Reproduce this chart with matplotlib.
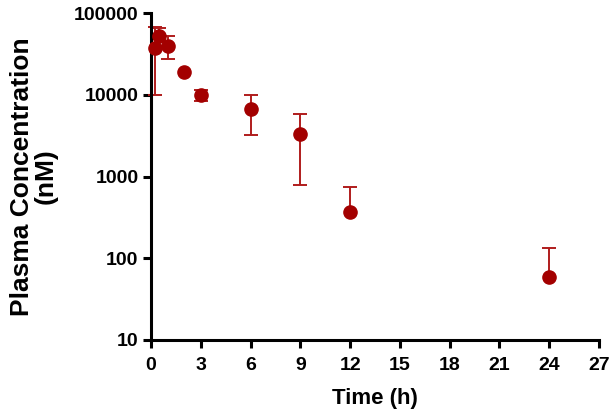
import numpy as np
import matplotlib.pyplot as plt

# Time points (h) and plasma concentration (nM)
time_h = np.array([0.25, 0.5, 1, 2, 3, 6, 9, 12, 24])
conc_mean = np.array([37000, 52000, 39000, 19000, 9800, 6700, 3300, 370, 59])
conc_upper = np.array([67000, 66000, 52000, 19000, 11300, 10000, 5800, 750, 133])
conc_lower = np.array([10000, 52000, 27500, 19000, 8500, 3200, 790, 370, 59])

x_ticks = [0, 3, 6, 9, 12, 15, 18, 21, 24, 27]
y_ticks = [10, 100, 1000, 10000, 100000]
y_tick_labels = ['10', '100', '1000', '10000', '100000']

plt.rcParams['font.family'] = ['Liberation Sans', 'DejaVu Sans']

fig = plt.figure(figsize=(6.15, 4.2), dpi=100)
ax = fig.add_axes([151 / 615, 80 / 420, 448 / 615, 327 / 420])

err_color = '#b01c1c'
# whiskers, then caps only where the whisker has length
ax.vlines(time_h, conc_lower, conc_upper, color=err_color, linewidth=1.4,
          clip_on=False, zorder=2)
up = conc_upper > conc_mean
lo = conc_lower < conc_mean
ax.plot(time_h[up], conc_upper[up], '_', color=err_color, markersize=9.5,
        markeredgewidth=1.4, clip_on=False, zorder=2)
ax.plot(time_h[lo], conc_lower[lo], '_', color=err_color, markersize=9.5,
        markeredgewidth=1.4, clip_on=False, zorder=2)
ax.plot(time_h, conc_mean, 'o', color='#a30000', markersize=9.5,
        clip_on=False, zorder=3)

ax.set_yscale('log')
ax.set_xlim(0, 27)
ax.set_ylim(10, 100000)
ax.set_xticks(x_ticks)
ax.set_yticks(y_ticks)
ax.set_yticklabels(y_tick_labels)
ax.minorticks_off()

for side in ['top', 'right']:
    ax.spines[side].set_visible(False)
for side in ['left', 'bottom']:
    ax.spines[side].set_linewidth(2.2)
ax.tick_params(width=2.2, length=6, labelsize=14)
ax.tick_params(axis='x', pad=6)
ax.tick_params(axis='y', pad=3)
for lab in ax.get_xticklabels() + ax.get_yticklabels():
    lab.set_fontweight('bold')

ax.set_xlabel('Time (h)', fontsize=16, fontweight='bold', labelpad=10)
ax.set_ylabel('Plasma Concentration\n(nM)', fontsize=19, fontweight='bold',
              labelpad=12, linespacing=0.95)

fig.savefig('out.png', dpi=100)
